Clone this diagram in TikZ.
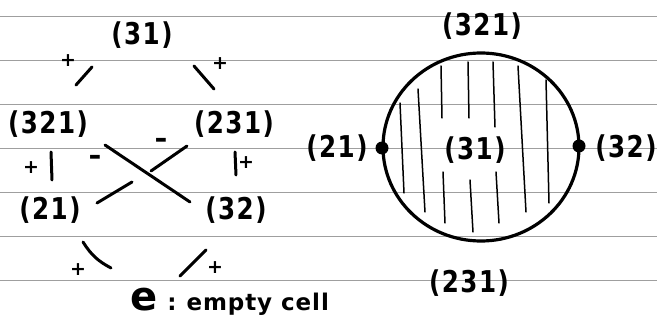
\documentclass[tikz,border=0pt]{standalone}
\usepackage{fontspec}
\setmainfont[LetterSpace=4]{DejaVu Sans}
\newfontfamily\hand[FakeStretch=0.82,LetterSpace=5]{DejaVu Sans}
\begin{document}
\begin{tikzpicture}[x=1pt,y=-1pt,
  lbl/.style={font=\hand\bfseries\fontsize{30}{30}\selectfont, inner sep=0pt},
  sgn/.style={font=\bfseries\fontsize{19}{19}\selectfont, inner sep=0pt},
  stroke/.style={line width=3pt, line cap=round},
  hatch/.style={line width=1.5pt, line cap=round},
  rule/.style={draw=gray!75, line width=0.9pt}]
\useasboundingbox (0,0) rectangle (657,321);
\fill[white] (0,0) rectangle (657,321);
\foreach \y in {16,60,...,280} \draw[rule] (0,\y) -- (657,\y);

% ---------- left diagram ----------
\node[lbl] (L31)  at (142,35)  {(31)};
\node[lbl] (L321) at (48,124)  {(321)};
\node[lbl] (L231) at (234,124) {(231)};
\node[lbl] (L21)  at (50,210)  {(21)};
\node[lbl] (L32)  at (236,210) {(32)};

\coordinate (a1) at (76,85);   \coordinate (a2) at (92,67);
\coordinate (b1) at (194,66);  \coordinate (b2) at (214,89);
\coordinate (c1) at (51,152);  \coordinate (c2) at (52,180);
\coordinate (d1) at (235,152); \coordinate (d2) at (236,175);
\coordinate (e1) at (105,145); \coordinate (e2) at (190,202);
\coordinate (f1) at (187,146); \coordinate (f2) at (151,171);
\coordinate (f3) at (132,182); \coordinate (f4) at (97,203);
\coordinate (g1) at (83,242);  \coordinate (g2) at (111,268);
\coordinate (h1) at (180,276); \coordinate (h2) at (206,250);

\draw[stroke] (a1) -- (a2);
\draw[stroke] (b1) -- (b2);
\draw[stroke] (c1) -- (c2);
\draw[stroke] (d1) -- (d2);
\draw[stroke] (e1) -- (e2);
\draw[stroke] (f1) -- (f2);
\draw[stroke] (f3) -- (f4);
\draw[stroke] (g1) to[bend right=15] (g2);
\draw[stroke] (h1) -- (h2);

\node[sgn] (pa) at (68,61)   {+};
\node[sgn] (pb) at (220,64)  {+};
\node[sgn] (pc) at (31,168)  {+};
\node[sgn] (pd) at (246,163) {+};
\node[sgn] (pg) at (78,270)  {+};
\node[sgn] (ph) at (215,268) {+};
\node[lbl] (me) at (95,160)  {–};
\node[lbl] (mf) at (161,143) {–};

\node[anchor=base west, inner sep=0pt] (ecell) at (130,310)
  {\bfseries{\fontsize{40}{40}\selectfont e}\hspace{10pt}{\fontsize{23}{23}\selectfont :\hspace{10pt}empty cell}};

% ---------- right diagram ----------
\draw[line width=3.2pt] (481,147) ellipse [x radius=98pt, y radius=94pt];
\foreach \xa/\ya/\xb/\yb in {400/103/404/193, 418/89/425/212,
   441/66/442/118, 443/172/445/223, 468/62/469/118, 470/180/473/232,
   493/62/495/127, 496/172/499/223, 518/66/526/212, 546/80/549/203}
  \draw[hatch] (\xa,\ya) -- (\xb,\yb);
\fill (382,148) circle[radius=6.5pt];
\fill (579,146) circle[radius=6.5pt];

\node[lbl] (R321) at (482,26)  {(321)};
\node[lbl] (R21)  at (337,148) {(21)};
\node[lbl] (R32)  at (626,148) {(32)};
\node[lbl] (R31)  at (475,150) {(31)};
\node[lbl] (R231) at (469,283) {(231)};
\end{tikzpicture}
\end{document}
